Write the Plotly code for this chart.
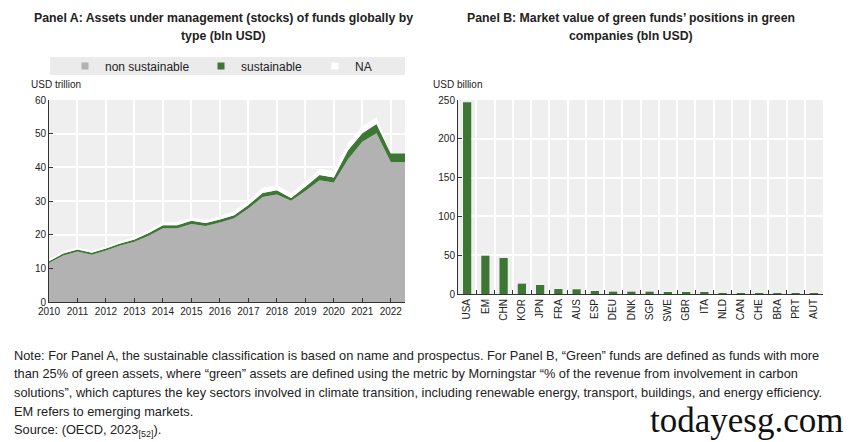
import plotly.graph_objects as go

# ---------------- Data ----------------
periods = [2010.0, 2010.5, 2011.0, 2011.5, 2012.0, 2012.5, 2013.0, 2013.5, 2014.0, 2014.5,
           2015.0, 2015.5, 2016.0, 2016.5, 2017.0, 2017.5, 2018.0, 2018.5, 2019.0, 2019.5,
           2020.0, 2020.5, 2021.0, 2021.5, 2022.0, 2022.5]
non_sustainable = [11.6, 13.8, 15.0, 14.0, 15.3, 16.8, 17.9, 19.7, 21.9, 21.9,
                   23.2, 22.6, 23.6, 24.9, 27.8, 31.2, 31.9, 30.1, 33.0, 36.2,
                   35.5, 42.4, 47.6, 50.1, 41.6, 41.6]
sustainable = [0.5, 0.6, 0.6, 0.6, 0.6, 0.6, 0.7, 0.8, 0.9, 0.9,
               0.9, 0.9, 0.9, 0.9, 1.0, 1.2, 1.3, 0.8, 1.2, 1.5,
               1.5, 2.7, 2.5, 2.8, 2.5, 2.5]
na_values = [0.6, 0.6, 0.6, 0.6, 0.6, 0.7, 0.7, 0.8, 0.9, 0.9,
             0.9, 0.9, 1.0, 1.2, 1.3, 1.5, 1.5, 1.4, 1.5, 1.8,
             1.8, 2.2, 2.0, 2.0, 0.0, 0.0]
year_ticks = list(range(2010, 2023))

countries = ["USA", "EM", "CHN", "KOR", "JPN", "FRA", "AUS", "ESP", "DEU", "DNK",
             "SGP", "SWE", "GBR", "ITA", "NLD", "CAN", "CHE", "BRA", "PRT", "AUT"]
green_values = [247, 49.4, 46.4, 13.3, 11.6, 6.4, 6.0, 3.9, 3.0, 3.0,
                3.0, 2.1, 1.7, 1.3, 1.1, 1.0, 0.9, 0.6, 0.4, 0.2]

# ---------------- Styles ----------------
GRAY = "#b2b2b2"
GREEN = "#3d7635"
PLOTBG = "#efefef"
FONT = "Liberation Sans, Arial, sans-serif"
W, H = 853, 442

def px_x(p):
    return p / W

def px_y(p):
    return 1 - p / H

fig = go.Figure()

# Panel A stacked areas
fig.add_trace(go.Scatter(x=periods, y=non_sustainable, stackgroup="a", mode="lines",
                         line=dict(width=0), fillcolor=GRAY, showlegend=False,
                         xaxis="x", yaxis="y", name="non sustainable", hoverinfo="skip"))
fig.add_trace(go.Scatter(x=periods, y=sustainable, stackgroup="a", mode="lines",
                         line=dict(width=0), fillcolor=GREEN, showlegend=False,
                         xaxis="x", yaxis="y", name="sustainable", hoverinfo="skip"))
fig.add_trace(go.Scatter(x=periods, y=na_values, stackgroup="a", mode="lines",
                         line=dict(width=0), fillcolor="#ffffff", showlegend=False,
                         xaxis="x", yaxis="y", name="NA", hoverinfo="skip"))

# Legend-only entries (square markers), each in its own legend for exact placement
legend_items = [("non sustainable", GRAY, "legend", 65),
                ("sustainable", GREEN, "legend2", 201),
                ("NA", "#ffffff", "legend3", 315)]
for nm, col, lg, _ in legend_items:
    fig.add_trace(go.Scatter(x=[None], y=[None], mode="markers", name=nm,
                             marker=dict(symbol="square", size=7, color=col,
                                         line=dict(width=0)),
                             xaxis="x", yaxis="y", showlegend=True, legend=lg))

# Panel B bars
fig.add_trace(go.Bar(x=countries, y=green_values, marker=dict(color=GREEN, line=dict(width=0)),
                     width=0.45, xaxis="x2", yaxis="y2", showlegend=False))

axis_common = dict(showline=True, linecolor="#333333", linewidth=1,
                   gridcolor="#ffffff", gridwidth=1.5,
                   tickfont=dict(family=FONT, size=10, color="#222222"),
                   zeroline=False, ticks="inside", ticklen=4, tickcolor="#333333")

legend_style = dict(orientation="h", xanchor="left", yanchor="middle", y=px_y(66),
                    bgcolor="rgba(0,0,0,0)", itemwidth=30,
                    font=dict(family=FONT, size=12, color="#222222"))

fig.update_layout(
    width=W, height=H,
    margin=dict(l=0, r=0, t=0, b=0, autoexpand=False),
    paper_bgcolor="#ffffff",
    plot_bgcolor=PLOTBG,
    font=dict(family=FONT, color="#222222"),
    xaxis=dict(domain=[px_x(49), px_x(405)], range=[2010, 2022.5],
               tickvals=year_ticks, ticktext=[str(y) for y in year_ticks],
               **axis_common),
    yaxis=dict(domain=[px_y(302), px_y(100)], range=[0, 60], dtick=10,
               **axis_common),
    xaxis2=dict(domain=[px_x(458), px_x(823)], type="category",
                tickson="boundaries", tickangle=-90, anchor="y2",
                **axis_common),
    yaxis2=dict(domain=[px_y(294), px_y(100)], range=[0, 250], dtick=50,
                anchor="x2", **axis_common),
    legend=dict(x=px_x(legend_items[0][3]), **legend_style),
    legend2=dict(x=px_x(legend_items[1][3]), **legend_style),
    legend3=dict(x=px_x(legend_items[2][3]), **legend_style),
    showlegend=True,
    bargap=0.5,
)

# Legend background bar
fig.add_shape(type="rect", xref="paper", yref="paper",
              x0=px_x(50), x1=px_x(405), y0=px_y(75), y1=px_y(57),
              fillcolor="#ebebeb", line=dict(width=0), layer="below")

ann = []
# Titles
ann.append(dict(text="<b>Panel A: Assets under management (stocks) of funds globally by</b>",
                x=px_x(223), y=px_y(18), font=dict(size=12.3)))
ann.append(dict(text="<b>type (bln USD)</b>", x=px_x(223), y=px_y(36), font=dict(size=12.3)))
ann.append(dict(text="<b>Panel B: Market value of green funds’ positions in green</b>",
                x=px_x(631), y=px_y(18), font=dict(size=12.3)))
ann.append(dict(text="<b>companies (bln USD)</b>", x=px_x(631), y=px_y(36), font=dict(size=12.3)))
# Axis unit labels
ann.append(dict(text="USD trillion", x=px_x(29), y=px_y(84), xanchor="left", font=dict(size=10)))
ann.append(dict(text="USD billion", x=px_x(431), y=px_y(84), xanchor="left", font=dict(size=10)))
# Notes
note_lines = [
    "Note: For Panel A, the sustainable classification is based on name and prospectus. For Panel B, “Green” funds are defined as funds with more",
    "than 25% of green assets, where “green” assets are defined using the metric by Morningstar “% of the revenue from involvement in carbon",
    "solutions”, which captures the key sectors involved in climate transition, including renewable energy, transport, buildings, and energy efficiency.",
    "EM refers to emerging markets.",
    "Source: (OECD, 2023<sub>[52]</sub>).",
]
for i, line in enumerate(note_lines):
    ann.append(dict(text=line, x=px_x(12), y=px_y(355 + i * 18.8), xanchor="left",
                    font=dict(size=12.8)))
# Watermark
ann.append(dict(text="todayesg.com", x=px_x(746), y=px_y(420),
                font=dict(family="Liberation Serif, DejaVu Serif, serif", size=35, color="#111111")))

for a in ann:
    a.setdefault("xanchor", "center")
    a.setdefault("yanchor", "middle")
    a["xref"] = "paper"
    a["yref"] = "paper"
    a["showarrow"] = False
    fig.add_annotation(**a)

fig.write_html("out.html", config={"displayModeBar": False},
               post_script="document.body.style.margin='0';document.body.style.overflow='hidden';")
